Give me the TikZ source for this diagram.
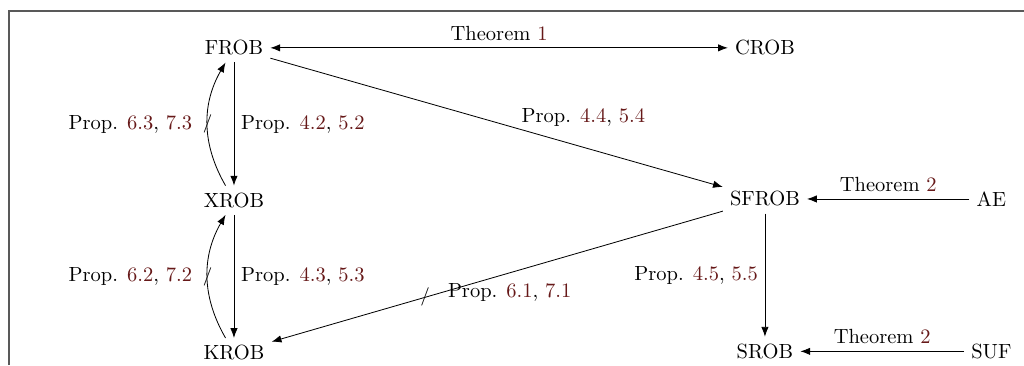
\documentclass[tikz,border=0pt]{standalone}
\usepackage{tikz}
\usetikzlibrary{arrows.meta, positioning, calc}
\definecolor{refred}{RGB}{102,24,24}
\newcommand{\refnum}[1]{\textcolor{refred}{#1}}
\tikzset{
  obj/.style={
    inner sep=3.3pt, font=\normalsize,
  },
  lbl/.style={
    inner sep=3.3pt, font=\normalsize,
  },
  slashmark/.style={
    inner sep=0pt, font=\small,
  },
  frame/.style={draw=black!65, line width=0.8pt},
  arrow/.style={-{Latex}},
  biarrow/.style={{Latex}-{Latex}},
}

\begin{document}
\begin{tikzpicture}[node distance=2.11cm]
  \useasboundingbox (0,0) rectangle (17.55,-6.256);
  \draw[frame] (0.154,-6.256) -- (0.154,-0.189) -- (17.55,-0.189);

  \node[obj] (frob) at (4.01,-0.82) {FROB};
  \node[obj, below=of frob] (xrob) {XROB};
  \node[obj, below=of xrob] (krob) {KROB};
  \node[obj] (sfrob) at (13.11,-3.41) {SFROB};
  \node[obj, below=of sfrob] (srob) {SROB};
  \node[obj] (crob) at (sfrob |- frob) {CROB};
  \node[obj] (ae) at (16.99,-3.41) {AE};
  \node[obj] (suf) at (ae |- srob) {SUF};

  \draw[biarrow] (frob) -- node[above, lbl] {Theorem \refnum{1}} (crob);
  \draw[arrow] (frob) -- node[right, lbl] {Prop. \refnum{4.2}, \refnum{5.2}} (xrob);
  \draw[arrow] (xrob) to[bend left=30]
    node[slashmark] {/}
    node[left=4pt, lbl] {Prop. \refnum{6.3}, \refnum{7.3}} (frob);
  \draw[arrow] (xrob) -- node[right, lbl] {Prop. \refnum{4.3}, \refnum{5.3}} (krob);
  \draw[arrow] (krob) to[bend left=30]
    node[slashmark] {/}
    node[left=4pt, lbl] {Prop. \refnum{6.2}, \refnum{7.2}} (xrob);
  \draw[arrow] (frob) -- node[pos=0.55, anchor=south west, inner sep=1pt] {Prop. \refnum{4.4}, \refnum{5.4}} (sfrob);
  \draw[arrow] (sfrob) --
    node[pos=0.66, slashmark] {/}
    node[pos=0.625, anchor=west, lbl] {Prop. \refnum{6.1}, \refnum{7.1}} (krob);
  \draw[arrow] (sfrob) -- node[left, lbl] {Prop. \refnum{4.5}, \refnum{5.5}} (srob);
  \draw[arrow] (ae) -- node[above, lbl] {Theorem \refnum{2}} (sfrob);
  \draw[arrow] (suf) -- node[above, lbl] {Theorem \refnum{2}} (srob);
\end{tikzpicture}
\end{document}
